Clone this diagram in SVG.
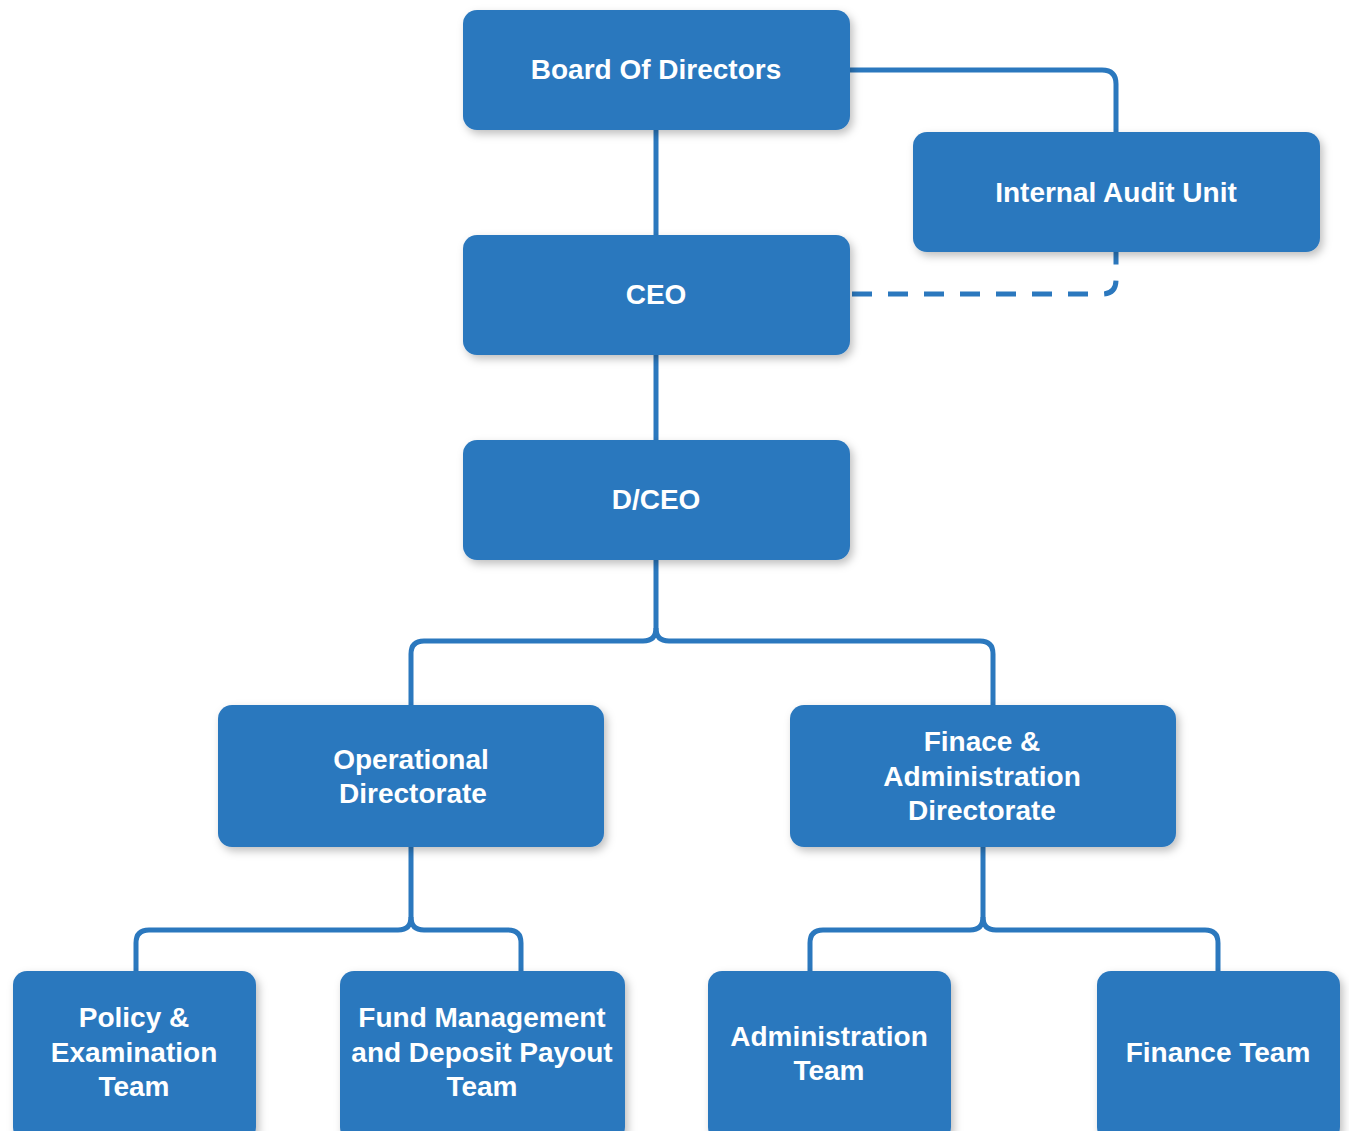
<svg xmlns="http://www.w3.org/2000/svg" width="1349" height="1131" viewBox="0 0 1349 1131">
<defs>
<filter id="sh" x="-10%" y="-10%" width="125%" height="130%">
<feDropShadow dx="3" dy="4" stdDeviation="4" flood-color="#000" flood-opacity="0.25"/>
</filter>
</defs>
<style>
.box{fill:#2b78be;filter:url(#sh)}
.t{fill:#fff;font-family:"Liberation Sans",Arial,sans-serif;font-weight:bold;font-size:28px;text-anchor:middle}
.c{fill:none;stroke:#2b78be;stroke-width:5}
.d{stroke-dasharray:20 16}
</style>
<rect width="1349" height="1131" fill="#fff"/>
<g id="connectors">
<path class="c" d="M656,130 V235"/>
<path class="c" d="M656,355 V440"/>
<path class="c" d="M850,70 H1102 Q1116,70 1116,84 V132"/>
<path class="c d" d="M852,294 H1102 Q1116,294 1116,280 V252"/>
<path class="c" d="M656,560 V628 Q656,641 643,641 H424 Q411,641 411,654 V705"/>
<path class="c" d="M656,628 Q656,641 669,641 H980 Q993,641 993,654 V705"/>
<path class="c" d="M411,847 V917 Q411,930 398,930 H149 Q136,930 136,943 V971"/>
<path class="c" d="M411,917 Q411,930 424,930 H508 Q521,930 521,943 V971"/>
<path class="c" d="M983,847 V917 Q983,930 970,930 H823 Q810,930 810,943 V971"/>
<path class="c" d="M983,917 Q983,930 996,930 H1205 Q1218,930 1218,943 V971"/>
</g>
<g id="board"><rect class="box" x="463" y="10" width="387" height="120" rx="14"/><text class="t" x="656" y="79">Board Of Directors</text></g>
<g id="audit"><rect class="box" x="913" y="132" width="407" height="120" rx="14"/><text class="t" x="1116" y="202">Internal Audit Unit</text></g>
<g id="ceo"><rect class="box" x="463" y="235" width="387" height="120" rx="14"/><text class="t" x="656" y="304">CEO</text></g>
<g id="dceo"><rect class="box" x="463" y="440" width="387" height="120" rx="14"/><text class="t" x="656" y="509">D/CEO</text></g>
<g id="operational"><rect class="box" x="218" y="705" width="386" height="142" rx="14"/><text class="t" x="411" y="769">Operational</text><text class="t" x="413" y="803">Directorate</text></g>
<g id="finadmin"><rect class="box" x="790" y="705" width="386" height="142" rx="14"/><text class="t" x="982" y="751">Finace &amp;</text><text class="t" x="982" y="786">Administration</text><text class="t" x="982" y="820">Directorate</text></g>
<g id="policy"><rect class="box" x="13" y="971" width="243" height="170" rx="14"/><text class="t" x="134" y="1027">Policy &amp;</text><text class="t" x="134" y="1062">Examination</text><text class="t" x="134" y="1096">Team</text></g>
<g id="fund"><rect class="box" x="340" y="971" width="285" height="170" rx="14"/><text class="t" x="482" y="1027">Fund Management</text><text class="t" x="482" y="1062">and Deposit Payout</text><text class="t" x="482" y="1096">Team</text></g>
<g id="admin"><rect class="box" x="708" y="971" width="243" height="170" rx="14"/><text class="t" x="829" y="1046">Administration</text><text class="t" x="829" y="1080">Team</text></g>
<g id="finteam"><rect class="box" x="1097" y="971" width="243" height="170" rx="14"/><text class="t" x="1218" y="1062">Finance Team</text></g>
</svg>
